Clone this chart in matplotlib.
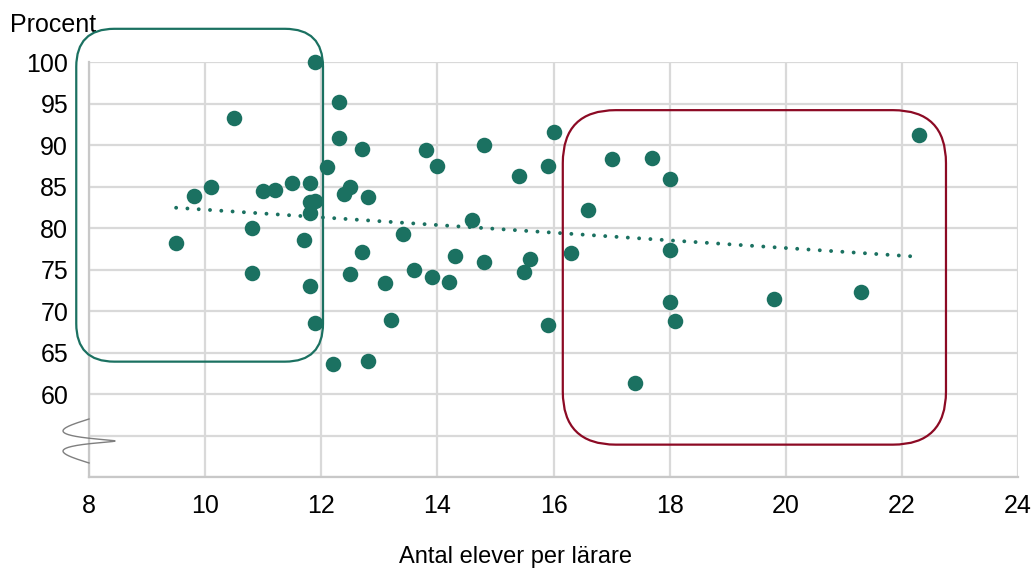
import numpy as np
import matplotlib
matplotlib.use('Agg')
import matplotlib.pyplot as plt
from matplotlib.patches import FancyBboxPatch
from matplotlib.transforms import IdentityTransform

# elever per lärare / procent
elever = [9.5, 9.8, 10.1, 10.5, 10.8, 10.8, 11.0, 11.2, 11.5, 11.8,
          11.7, 11.8, 11.9, 11.8, 11.8, 11.9, 11.9, 12.1, 12.3, 12.3,
          12.4, 12.5, 12.7, 12.8, 12.7, 12.5, 13.1, 13.2, 12.8, 12.2,
          13.4, 13.6, 13.9, 14.2, 14.3, 13.8, 14.0, 14.6, 14.8, 14.8,
          15.4, 15.9, 16.0, 15.6, 15.5, 15.9, 16.6, 16.3, 17.0, 17.7,
          18.0, 18.0, 18.0, 18.1, 19.8, 21.3, 22.3, 17.4]
procent = [78.2, 83.8, 84.9, 93.2, 80.0, 74.6, 84.5, 84.6, 85.4, 85.4,
           78.5, 83.1, 83.3, 81.8, 73.0, 68.6, 100.0, 87.3, 95.2, 90.8,
           84.1, 85.0, 89.5, 83.7, 77.1, 74.4, 73.4, 68.9, 64.0, 63.6,
           79.3, 75.0, 74.1, 73.5, 76.6, 89.4, 87.5, 81.0, 90.0, 75.9,
           86.3, 87.5, 91.6, 76.3, 74.7, 68.3, 82.2, 77.0, 88.3, 88.4,
           85.9, 77.3, 71.1, 68.8, 71.4, 72.3, 91.2, 61.3]

x_ticks = [8, 10, 12, 14, 16, 18, 20, 22, 24]
y_ticks = [50, 55, 60, 65, 70, 75, 80, 85, 90, 95, 100]
y_labels = ['', '', '60', '65', '70', '75', '80', '85', '90', '95', '100']

# markerade grupper (x0, x1, y0, y1) i dataenheter
grupp_vanster = (7.78, 12.03, 63.9, 104.0)
grupp_hoger = (16.16, 22.76, 53.9, 94.2)

green = '#1b7161'
red = '#8c0a24'

plt.rcParams['font.family'] = ['Liberation Sans', 'DejaVu Sans']

fig = plt.figure(figsize=(10.34, 5.71), dpi=100)
ax = fig.add_axes([0.0861, 0.1646, 0.8984, 0.7268])

ax.set_xlim(8, 24)
ax.set_ylim(50, 100)
ax.set_xticks(x_ticks)
ax.set_yticks(y_ticks)
ax.set_yticklabels(y_labels)
ax.tick_params(length=0, labelsize=18, colors='black')
ax.tick_params(axis='y', pad=15)
ax.tick_params(axis='x', pad=12)
ax.grid(True, color='#d9d9d9', linewidth=1.6)
ax.set_axisbelow(True)
for side in ['top', 'right']:
    ax.spines[side].set_visible(False)
for side in ['left', 'bottom']:
    ax.spines[side].set_color('#c8c8c8')
    ax.spines[side].set_linewidth(1.6)

ax.scatter(elever, procent, s=125, color=green, zorder=3, linewidths=0,
           clip_on=False)

# trendlinje
k, m = np.polyfit(elever, procent, 1)
xs = np.array([min(elever), max(elever)])
ax.plot(xs, k * xs + m, color=green, linewidth=2.8,
        linestyle=(0, (0.01, 2.9)), dash_capstyle='round', zorder=2)

ax.set_xlabel('Antal elever per lärare', fontsize=17)
ax.xaxis.set_label_coords(0.4586, -0.193)
ax.xaxis.label.set_va('center')
fig.text(0.01, 0.944, 'Procent', fontsize=18, va='baseline', ha='left')

# rundade ramar
fig.canvas.draw()
for (x0, x1, y0, y1), col, r in [(grupp_vanster, green, 38),
                                  (grupp_hoger, red, 53)]:
    p0 = ax.transData.transform((x0, y0))
    p1 = ax.transData.transform((x1, y1))
    box = FancyBboxPatch(p0, p1[0] - p0[0], p1[1] - p0[1],
                         boxstyle=f'round,pad=0,rounding_size={r}',
                         fill=False, edgecolor=col, linewidth=1.6,
                         transform=IdentityTransform(), clip_on=False,
                         zorder=4)
    fig.patches.append(box)

# axelbrytning
t = np.linspace(0, 1, 200)
bx = -0.028 * np.sin(3 * np.pi * t)
by = 0.1398 - 0.106 * (t + 0.12 * np.sin(2 * np.pi * t))
ax.plot(bx, by, color='#7f7f7f', linewidth=1, transform=ax.transAxes,
        clip_on=False, zorder=5)

fig.savefig('out.png', dpi=100)
